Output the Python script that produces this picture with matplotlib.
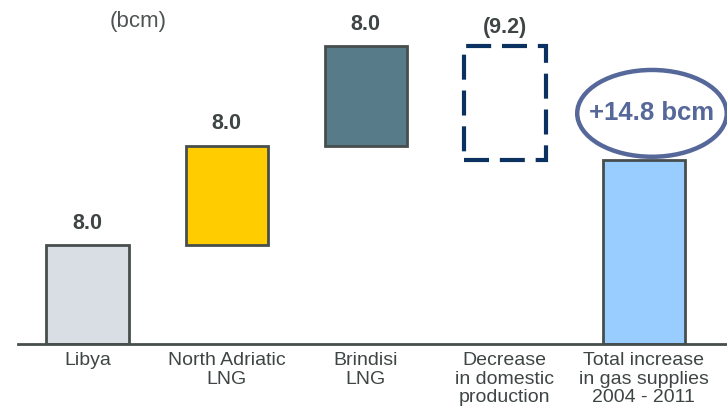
import matplotlib
matplotlib.use("Agg")
import matplotlib.pyplot as plt
from matplotlib.patches import Ellipse

plt.rcParams['font.family'] = ['Liberation Sans', 'DejaVu Sans']

# Waterfall of gas supply changes (bcm)
categories = ["Libya", "North Adriatic\nLNG", "Brindisi\nLNG",
              "Decrease\nin domestic\nproduction",
              "Total increase\nin gas supplies\n2004 - 2011"]
changes = [8.0, 8.0, 8.0, -9.2]
value_labels = ["8.0", "8.0", "8.0", "(9.2)"]
total_label = "+14.8 bcm"
unit_label = "(bcm)"

fill_colors = ["#d8dee4", "#ffcc00", "#587b8a", "none", "#99ccff"]
edge_dark = "#474e4e"
dash_color = "#0b3160"
oval_color = "#56689a"
text_dark = "#3f4545"

W, H = 727, 417
fig = plt.figure(figsize=(W / 100, H / 100), dpi=100)
base_px = 344
ax = fig.add_axes([0, (H - base_px) / H, 1, base_px / H])

step_px = 139.1
first_px = 87.5
px_per_unit = 12.4
ax.set_xlim(-first_px / step_px, (W - first_px) / step_px)
ax.set_ylim(0, base_px / px_per_unit)

# running level for the floating bars
bottoms = []
level = 0.0
for c in changes:
    if c >= 0:
        bottoms.append(level)
        level += c
    else:
        level += c
        bottoms.append(level)
total = level

width = 0.59
for i, c in enumerate(changes):
    if c >= 0:
        ax.bar(i, c, bottom=bottoms[i], width=width, color=fill_colors[i],
               edgecolor=edge_dark, linewidth=2.0, zorder=3)
        top = bottoms[i] + c
        off = 8
    else:
        ax.bar(i, -c, bottom=bottoms[i], width=width, color="none",
               edgecolor=dash_color, linewidth=3.0, linestyle=(0, (6, 2.6)),
               zorder=3)
        top = bottoms[i] - c
        off = 6
    ax.annotate(value_labels[i], (i, top), xytext=(0, off),
                textcoords="offset points", ha="center", va="bottom",
                fontsize=15.5, fontweight="bold", color=text_dark)

ti = len(changes)
ax.bar(ti, total, width=width, color=fill_colors[ti], edgecolor=edge_dark,
       linewidth=2.0, zorder=3)

# oval callout above the total bar
oval_cy = total + 3.8
ax.add_patch(Ellipse((ti + 0.058, oval_cy), 1.075, 7.0, facecolor="white",
                     edgecolor=oval_color, linewidth=3.2, clip_on=False,
                     zorder=4))
ax.text(ti + 0.058, oval_cy, total_label, ha="center", va="center",
        fontsize=18.5, fontweight="bold", color=oval_color, zorder=5)

ax.set_xticks(range(len(categories)))
ax.set_xticklabels(categories, fontsize=14, color=text_dark,
                   linespacing=1.1)
ax.tick_params(axis="x", length=0, pad=6)
ax.set_yticks([])

for s in ("top", "right", "left"):
    ax.spines[s].set_visible(False)
ax.spines["bottom"].set_color(edge_dark)
ax.spines["bottom"].set_linewidth(2.0)
ax.spines["bottom"].set_bounds((18 - first_px) / step_px,
                               (W - first_px) / step_px)
ax.spines["bottom"].set_zorder(4)

fig.text(138 / W, 1 - 21 / H, unit_label, ha="center", va="center",
         fontsize=16, color="#4d5353")

fig.savefig("out.png", dpi=100)
